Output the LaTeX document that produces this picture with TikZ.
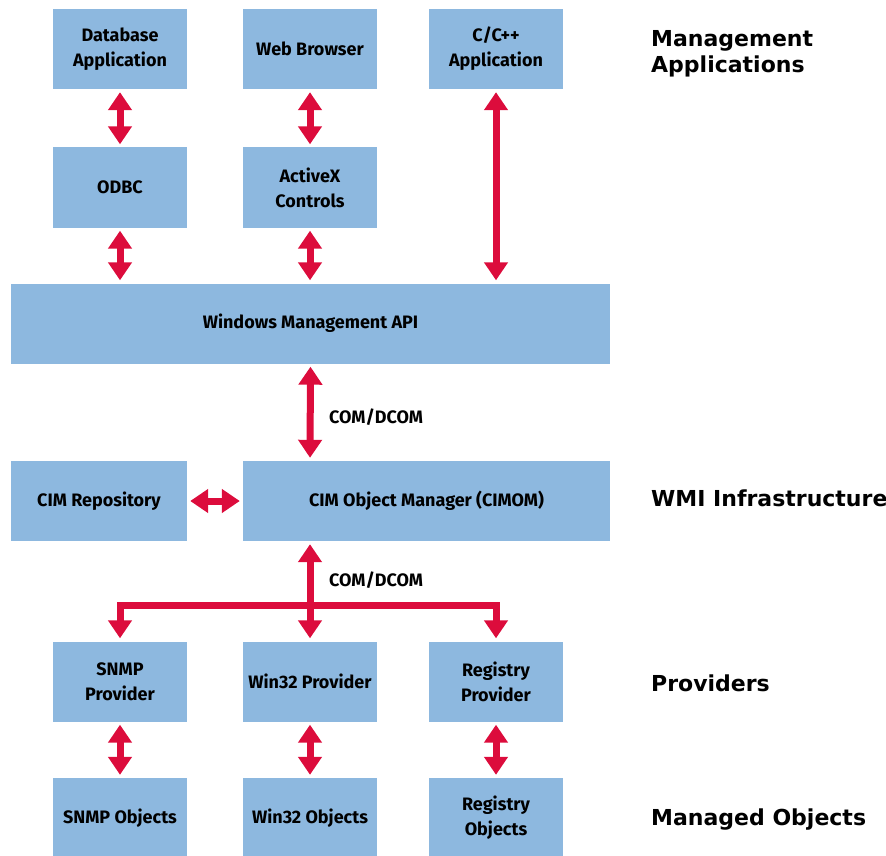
\documentclass[tikz,border=0pt]{standalone}
\usepackage{fontspec}
\setmainfont{Fira Sans}
\newfontfamily\layerfont{DejaVu Sans}
\usetikzlibrary{arrows.meta}

\definecolor{boxblue}{RGB}{141,184,223}
\definecolor{wmired}{RGB}{220,12,60}

\tikzset{
  box/.style={fill=boxblue, minimum width=134pt, minimum height=80pt,
    inner sep=0pt, align=center, font=\bfseries\fontsize{18}{25}\selectfont},
  arr/.style={draw=wmired, line width=7pt, >={Triangle[width=23pt,length=18pt]},
    <->, shorten <=3pt, shorten >=3pt},
  layer/.style={anchor=west, align=left, inner sep=0pt,
    font=\layerfont\bfseries\fontsize{22}{26}\selectfont},
  busnote/.style={anchor=west, inner sep=0pt, font=\bfseries\fontsize{18}{20}\selectfont},
}

\begin{document}
\begin{tikzpicture}[x=1pt, y=-1pt]

\useasboundingbox (0,0) rectangle (886,856);

% -------- management applications -----------
\node[box] (dbapp)   at (120, 49) {Database\\Application};
\node[box] (browser) at (310, 49) {Web Browser};
\node[box] (capp)    at (496, 49) {C/C++\\Application};

\node[box] (odbc)    at (120, 187.5) {ODBC};
\node[box] (activex) at (310, 187.5) {ActiveX\\Controls};

\node[box, minimum width=599pt] (wmapi) at (310.5, 323.5) {Windows Management API};

% -------- WMI infrastructure -----------
\node[box, minimum width=176pt] (cimrep) at (99, 501) {CIM Repository};
\node[box, minimum width=367pt] (cimom)  at (426.5, 501) {CIM Object Manager (CIMOM)};

% -------- providers and objects -----------
\node[box] (snmpprov)  at (120, 681.5) {SNMP\\Provider};
\node[box] (win32prov) at (310, 681.5) {Win32 Provider};
\node[box] (regprov)   at (496, 681.5) {Registry\\Provider};

\node[box] (snmpobj)   at (120, 818) {SNMP Objects};
\node[box] (win32obj)  at (310, 818) {Win32 Objects};
\node[box] (regobj)    at (496, 818) {Registry\\Objects};

% -------- arrows -----------
\draw[arr] (dbapp) -- (odbc);
\draw[arr] (browser) -- (activex);
\draw[arr] (odbc) -- (odbc |- wmapi.north);
\draw[arr] (activex) -- (activex |- wmapi.north);
\draw[arr] (capp) -- (capp |- wmapi.north);

\coordinate (bus) at (310, 605);
\draw[arr] (wmapi.south) -- (bus |- cimom.north);
\draw[arr] (cimrep) -- (cimom);

\draw[arr, ->] (bus) -- (bus |- cimom.south);
\draw[arr] (snmpprov.north) |- (bus) -| (regprov.north);
\draw[arr, ->] (bus) -- (win32prov.north);

\draw[arr] (snmpprov) -- (snmpobj);
\draw[arr] (win32prov) -- (win32obj);
\draw[arr] (regprov) -- (regobj);

\node[busnote] (comtop) at (329, 417) {COM/DCOM};
\node[busnote] (combot) at (329, 580) {COM/DCOM};

% -------- layer names -----------
\node[layer] (lmgmt)  at (651, 54)  {Management\\Applications};
\node[layer] (linfra) at (651, 498) {WMI Infrastructure};
\node[layer] (lprov)  at (651, 683) {Providers};
\node[layer] (lobj)   at (651, 820) {Managed Objects};

\end{tikzpicture}
\end{document}
